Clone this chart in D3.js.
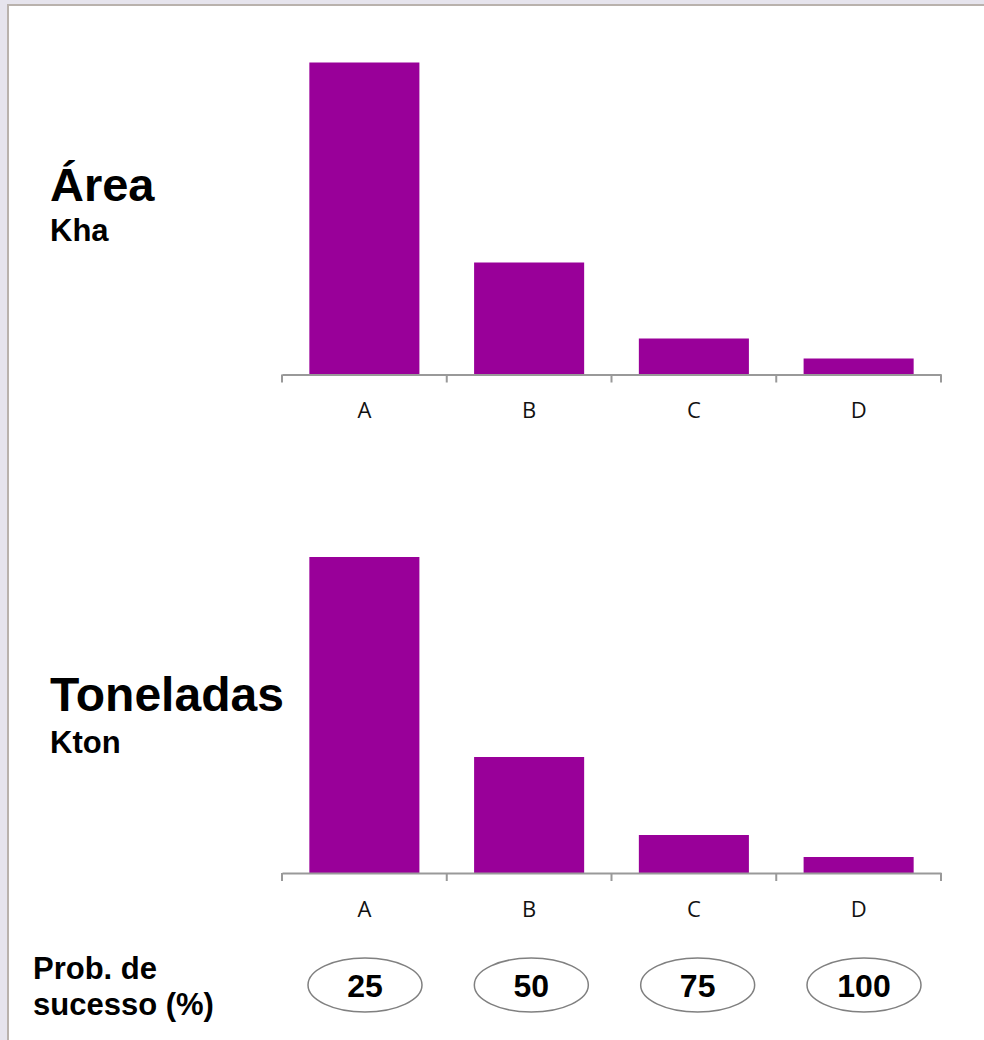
<!DOCTYPE html>
<html>
<head>
<meta charset="utf-8">
<script src="https://cdn.jsdelivr.net/npm/d3@7"></script>
<style>
  html, body { margin: 0; padding: 0; background: #e6e4ed; }
  svg { display: block; }
</style>
</head>
<body>
<svg id="chart" width="984" height="1040"></svg>
<script>
// Categories and values for the two bar panels
const categories = ["A", "B", "C", "D"];
const areaValues = [78, 28, 9, 4];        // Área (Kha)
const tonValues = [79, 29, 9.5, 4];       // Toneladas (Kton)
const probLabels = ["25", "50", "75", "100"]; // Prob. de sucesso (%)

const svg = d3.select("#chart");

// Page sheet with a thin border
svg.append("rect")
  .attr("x", 8).attr("y", 5)
  .attr("width", 1000).attr("height", 1060)
  .attr("fill", "#ffffff")
  .attr("stroke", "#b9b2ad")
  .attr("stroke-width", 2);

const x = d3.scaleBand()
  .domain(categories)
  .range([282, 941])
  .paddingInner(0.332)
  .paddingOuter(0.166);

const barColor = "#990099";
const axisColor = "#999999";

function panel(values, baseline) {
  const y = d3.scaleLinear().domain([0, 80]).range([baseline, baseline - 320]);
  const g = svg.append("g");

  g.selectAll("rect.bar")
    .data(values)
    .join("rect")
    .attr("class", "bar")
    .attr("x", (d, i) => x(categories[i]))
    .attr("width", x.bandwidth())
    .attr("y", d => y(d))
    .attr("height", d => y(0) - y(d))
    .attr("fill", barColor);

  // Category axis: labels centred in bands, ticks on band boundaries
  const axis = g.append("g")
    .attr("transform", `translate(0,${baseline})`)
    .call(d3.axisBottom(x).tickSize(0).tickPadding(28));
  axis.select(".domain").attr("stroke", axisColor).attr("stroke-width", 2);
  axis.selectAll("text")
    .style("font-family", "'Open Sans', sans-serif")
    .style("font-size", "22px")
    .attr("fill", "#111");

  const step = x.step();
  const bounds = d3.range(categories.length + 1).map(i => x.range()[0] + i * step);
  g.selectAll("line.tick-b")
    .data(bounds)
    .join("line")
    .attr("class", "tick-b")
    .attr("x1", d => d).attr("x2", d => d)
    .attr("y1", baseline).attr("y2", baseline + 8)
    .attr("stroke", axisColor)
    .attr("stroke-width", 2);
}

panel(areaValues, 374.5);
panel(tonValues, 873);

// Panel titles
const titleFont = "'Liberation Sans', Arial, sans-serif";
function label(text, xPos, yPos, size) {
  svg.append("text").attr("x", xPos).attr("y", yPos)
    .attr("font-family", titleFont).attr("font-weight", "bold")
    .attr("font-size", size).attr("fill", "#000").text(text);
}
label("Área", 50, 201, 47);
label("Kha", 50, 241, 31);
label("Toneladas", 50, 711, 48);
label("Kton", 50, 753, 31);

// Probability row
label("Prob. de", 33, 979, 31);
label("sucesso (%)", 33, 1015, 31);

const px = d3.scalePoint().domain(probLabels).range([365, 864]);
const pill = svg.append("g").selectAll("g")
  .data(probLabels)
  .join("g")
  .attr("transform", d => `translate(${px(d)},985)`);
pill.append("ellipse")
  .attr("rx", 57).attr("ry", 27)
  .attr("fill", "#ffffff")
  .attr("stroke", "#808080")
  .attr("stroke-width", 1.5);
pill.append("text")
  .attr("text-anchor", "middle")
  .attr("dy", "0.36em")
  .attr("font-family", titleFont).attr("font-weight", "bold")
  .attr("font-size", 32).attr("fill", "#000")
  .text(d => d);
</script>
</body>
</html>
